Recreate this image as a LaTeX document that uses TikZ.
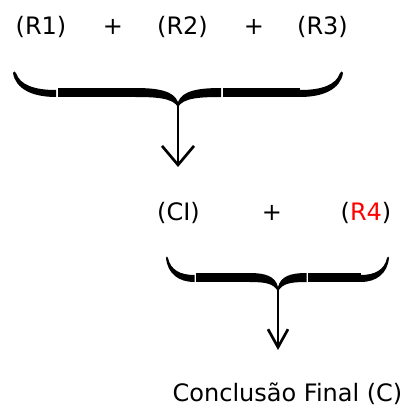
\documentclass[tikz,border=0pt]{standalone}
\usepackage{fontspec}
\setmainfont{DejaVu Sans}
\usetikzlibrary{arrows.meta}

% Horizontal curly brace built from pieces:
% #1 left x, #2 tip x, #3 right x, #4 bottom of the band (y), #5 length of the end/middle pieces
\newcommand{\hbrace}[5]{%
  % left hook
  \fill ({#1},{#4-24}) .. controls ({#1+0.06*#5},{#4-8}) and ({#1+0.45*#5},{#4}) .. ({#1+#5},{#4})
    -- ({#1+#5},{#4-7}) .. controls ({#1+0.5*#5},{#4-7}) and ({#1+0.16*#5},{#4-12}) .. ({#1+0.07*#5},{#4-24})
    .. controls ({#1+0.05*#5},{#4-26}) and ({#1+0.01*#5},{#4-26}) .. cycle;
  % left bar
  \fill ({#1+#5+1.5},{#4-9}) rectangle ({#2-#5},{#4});
  % middle piece with the point
  \fill ({#2-#5},{#4-9}) .. controls ({#2-0.45*#5},{#4-9}) and ({#2-0.1*#5},{#4-6}) .. ({#2},{#4+5})
    .. controls ({#2+0.1*#5},{#4-6}) and ({#2+0.45*#5},{#4-9}) .. ({#2+#5},{#4-9})
    -- ({#2+#5},{#4}) .. controls ({#2+0.5*#5},{#4}) and ({#2+0.12*#5},{#4+1}) .. ({#2},{#4+10})
    .. controls ({#2-0.12*#5},{#4+1}) and ({#2-0.5*#5},{#4}) .. ({#2-#5},{#4}) -- cycle;
  % right bar
  \fill ({#2+#5+1.5},{#4-9}) rectangle ({#3-#5},{#4});
  % right hook
  \fill ({#3},{#4-24}) .. controls ({#3-0.06*#5},{#4-8}) and ({#3-0.45*#5},{#4}) .. ({#3-#5},{#4})
    -- ({#3-#5},{#4-7}) .. controls ({#3-0.5*#5},{#4-7}) and ({#3-0.16*#5},{#4-12}) .. ({#3-0.07*#5},{#4-24})
    .. controls ({#3-0.05*#5},{#4-26}) and ({#3-0.01*#5},{#4-26}) .. cycle;
}

\begin{document}
\begin{tikzpicture}[x=1pt,y=-1pt,
  lbl/.style={inner sep=0pt,anchor=base,font=\fontsize{24}{28}\selectfont},
  stem/.style={line width=2.7pt},
  bigtip/.style={-{Straight Barb[length=19pt,width=32pt]}},
  smalltip/.style={-{Straight Barb[length=18pt,width=20pt]}}]
\useasboundingbox (0,0) rectangle (406,406);

% first line of terms
\node[lbl] (r1) at (41,35) {(R1)};
\node[lbl] (p1) at (113,35) {+};
\node[lbl] (r2) at (182.5,35) {(R2)};
\node[lbl] (p2) at (254,35) {+};
\node[lbl] (r3) at (322.5,35) {(R3)};

% first brace and its arrow
\hbrace{13}{178}{343}{97}{43}
\coordinate (tip1) at (178,104);
\coordinate (end1) at (178,167);
\draw[stem,bigtip] (tip1) -- (end1);

% second line of terms
\node[lbl] (ci) at (178.5,220) {(CI)};
\node[lbl] (p3) at (272,220) {+};
\node[lbl] (r4) at (366,220) {(\textcolor{red}{R4})};

% second brace and its arrow
\hbrace{166}{278}{389}{282}{28.5}
\coordinate (tip2) at (278,289);
\coordinate (end2) at (278,350);
\draw[stem,smalltip] (tip2) -- (end2);

% result
\node[lbl] (cf) at (287.5,401.5) {Conclusão Final (C)};
\end{tikzpicture}
\end{document}
